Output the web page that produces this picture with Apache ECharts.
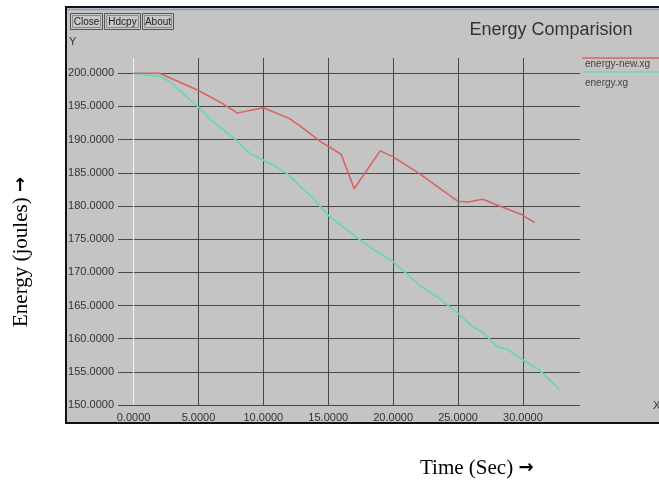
<!DOCTYPE html>
<html><head><meta charset="utf-8">
<script src="https://cdn.jsdelivr.net/npm/echarts@6/dist/echarts.min.js"></script>
<style>html,body{margin:0;padding:0;background:#fff}#c{width:659px;height:480px}</style>
</head><body><div id="c"></div>
<script>
const titleText = 'Energy Comparision';
const xAxisName = 'Time (Sec)';
const yAxisName = 'Energy (joules)';
const arrowText = '\u2192';
const seriesNames = ['energy-new.xg', 'energy.xg'];
const seriesColors = ['#dc6262', '#6ed8ac'];

const newTime   = [0, 2, 5, 6.8, 8, 10, 12, 13, 14.4, 16, 17, 19, 20, 22, 25, 25.8, 26.9, 28.2, 29.9, 30.9];
const newEnergy = [200, 200, 197.4, 195.5, 194.0, 194.8, 193.2, 191.8, 189.7, 187.8, 182.6, 188.3, 187.4, 184.9, 180.7, 180.6, 181.0, 180.0, 178.7, 177.5];

const oldTime   = [0, 2, 2.7, 5, 6, 7.8, 9, 10, 11, 11.8, 13.7, 15, 17.3, 18.6, 20, 22, 23.6, 25, 26, 27, 28.1, 28.7, 30, 31.3, 32.8];
const oldEnergy = [200, 199.5, 198.9, 194.9, 192.9, 190.1, 187.9, 186.9, 185.9, 184.9, 181.4, 178.6, 175.1, 173.3, 171.6, 168.1, 166.0, 163.8, 162.0, 160.8, 158.7, 158.5, 156.8, 155.2, 152.4];

const xTicks = [0, 5, 10, 15, 20, 25, 30];
const yTicks = [150, 155, 160, 165, 170, 175, 180, 185, 190, 195, 200];

function pairs(xs, ys) { return xs.map((x, i) => [x, ys[i]]); }

const gridColor = '#474747';
const xLineColors = xTicks.map(v => v === 0 ? '#efefef' : gridColor);

const chart = echarts.init(document.getElementById('c'), null, {renderer: 'canvas'});

const labelRich = {
  t: {fontFamily: '"Liberation Serif", serif', fontSize: 21, color: '#111'},
  a: {fontFamily: '"DejaVu Sans", sans-serif', fontSize: 18, fontWeight: 'bold', color: '#111'}
};

const buttons = [['Close', 70, 32], ['Hdcpy', 104, 36], ['About', 142, 31]];
const graphic = [
  {type: 'rect', z: -20, shape: {x: 66, y: 7, width: 600, height: 416}, style: {fill: '#c4c4c4', stroke: '#111', lineWidth: 2}},
  {type: 'line', z: -19, shape: {x1: 67, y1: 9.5, x2: 659, y2: 9.5}, style: {stroke: '#7f9dd2', lineWidth: 1.5}},
  {type: 'text', style: {x: 69, y: 36, text: 'Y', font: '11px "Liberation Sans", Arial', fill: '#333'}},
  {type: 'text', style: {x: 653, y: 400, text: 'X', font: '11px "Liberation Sans", Arial', fill: '#333'}},
  {type: 'text', style: {x: 551, y: 30, text: titleText, align: 'center', verticalAlign: 'middle', font: '18px "Liberation Sans", Arial', fill: '#333'}},
  {type: 'line', shape: {x1: 582, y1: 58, x2: 659, y2: 58}, style: {stroke: seriesColors[0], lineWidth: 1.5}},
  {type: 'text', style: {x: 585, y: 64, text: seriesNames[0], verticalAlign: 'middle', font: '10px "Liberation Sans", Arial', fill: '#444'}},
  {type: 'line', shape: {x1: 582, y1: 72, x2: 659, y2: 72}, style: {stroke: seriesColors[1], lineWidth: 1.5}},
  {type: 'text', style: {x: 585, y: 83, text: seriesNames[1], verticalAlign: 'middle', font: '10px "Liberation Sans", Arial', fill: '#444'}},
  {type: 'text', style: {x: 420, y: 468, text: '{t|' + xAxisName + ' }{a|' + arrowText + '}', verticalAlign: 'middle', rich: labelRich}},
  {type: 'text', rotation: Math.PI / 2, x: 21, y: 252, style: {x: 0, y: 0, text: '{t|' + yAxisName + ' }{a|' + arrowText + '}', align: 'center', verticalAlign: 'middle', rich: labelRich}}
];
buttons.forEach(([label, bx, bw]) => {
  graphic.push({type: 'rect', shape: {x: bx + 0.5, y: 13.5, width: bw, height: 16}, style: {fill: '#c8c8c8', stroke: '#555', lineWidth: 1}});
  graphic.push({type: 'rect', shape: {x: bx + 2.5, y: 15.5, width: bw - 4, height: 12}, style: {fill: 'none', stroke: '#8a8a8a', lineWidth: 1}});
  graphic.push({type: 'text', style: {x: bx + bw / 2 + 0.5, y: 22, text: label, align: 'center', verticalAlign: 'middle', font: '10px "Liberation Sans", Arial', fill: '#222'}});
});

chart.setOption({
  animation: false,
  backgroundColor: '#ffffff',
  grid: {left: 118, right: 79, top: 58, bottom: 75, containLabel: false},
  xAxis: {
    type: 'value', min: -1.2, max: 34.4,
    axisLine: {show: false}, axisTick: {show: false, customValues: xTicks},
    axisLabel: {customValues: xTicks, margin: 7, formatter: v => v.toFixed(4), fontFamily: '"Liberation Sans", Arial', fontSize: 11, color: '#333'},
    splitLine: {show: true, lineStyle: {color: xLineColors, width: 1}}
  },
  yAxis: {
    type: 'value', min: 150, max: 202.3,
    axisLine: {show: false}, axisTick: {show: false, customValues: yTicks},
    axisLabel: {customValues: yTicks, margin: 4, formatter: v => v.toFixed(4), fontFamily: '"Liberation Sans", Arial', fontSize: 11, color: '#333'},
    splitLine: {show: true, lineStyle: {color: gridColor, width: 1}}
  },
  graphic: graphic,
  series: [
    {name: seriesNames[0], type: 'line', data: pairs(newTime, newEnergy), showSymbol: false, symbol: 'none', lineStyle: {color: seriesColors[0], width: 1.6}, z: 3},
    {name: seriesNames[1], type: 'line', data: pairs(oldTime, oldEnergy), showSymbol: false, symbol: 'none', lineStyle: {color: seriesColors[1], width: 1.8}, z: 2}
  ]
});
</script></body></html>
